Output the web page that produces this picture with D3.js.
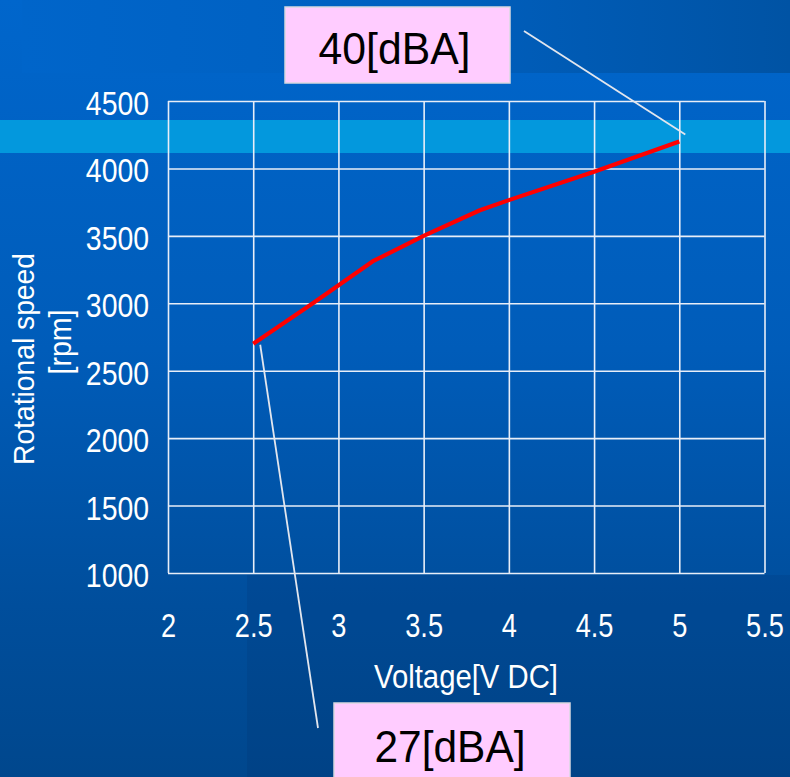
<!DOCTYPE html>
<html>
<head>
<meta charset="utf-8">
<script src="https://cdn.jsdelivr.net/npm/d3@7"></script>
<style>
  html, body { margin: 0; padding: 0; background: #0060c0; }
  svg { display: block; }
</style>
</head>
<body>
<svg id="chart" width="790" height="777"></svg>
<script>
// ---- data ----
const voltage = [2.5, 2.85, 3.2, 3.5, 3.83, 4.0, 4.5, 5.0];
const rpm = [2700, 3000, 3310, 3500, 3690, 3765, 3975, 4200];
const xTicks = [2, 2.5, 3, 3.5, 4, 4.5, 5, 5.5];
const yTicks = [1000, 1500, 2000, 2500, 3000, 3500, 4000, 4500];
const noiseLabels = ["40[dBA]", "27[dBA]"];
const xTitle = "Voltage[V DC]";
const yTitle = ["Rotational speed", "[rpm]"];

const W = 790, H = 777;
const svg = d3.select("#chart");

// ---- background ----
const defs = svg.append("defs");
const bg = defs.append("linearGradient").attr("id", "bg").attr("x1", 0).attr("y1", 0).attr("x2", 0).attr("y2", 1);
bg.append("stop").attr("offset", 0).attr("stop-color", "#0066cc");
bg.append("stop").attr("offset", 0.45).attr("stop-color", "#005cb9");
bg.append("stop").attr("offset", 0.78).attr("stop-color", "#004e9c");
bg.append("stop").attr("offset", 1).attr("stop-color", "#00478d");
const topG = defs.append("linearGradient").attr("id", "topg").attr("x1", 0).attr("y1", 0).attr("x2", 1).attr("y2", 0);
topG.append("stop").attr("offset", 0).attr("stop-color", "#0065ca");
topG.append("stop").attr("offset", 0.5).attr("stop-color", "#0060c0");
topG.append("stop").attr("offset", 1).attr("stop-color", "#0053a4");

svg.append("rect").attr("width", W).attr("height", H).attr("fill", "url(#bg)");
svg.append("rect").attr("x", 22).attr("y", 0).attr("width", W - 22).attr("height", 73).attr("fill", "url(#topg)");
svg.append("rect").attr("x", 247).attr("y", 575).attr("width", W - 247).attr("height", H - 575)
  .attr("fill", "#001a40").attr("opacity", 0.09);
svg.append("rect").attr("x", 0).attr("y", 120).attr("width", W).attr("height", 33).attr("fill", "#0398dd");

// ---- scales ----
const x = d3.scaleLinear().domain([2, 5.5]).range([168, 764.5]);
const y = d3.scaleLinear().domain([1000, 4500]).range([573, 101]);

const font = "'Liberation Sans', Arial, sans-serif";
function condense(sel, ratio) {
  sel.each(function () {
    const w = this.getComputedTextLength();
    d3.select(this).attr("textLength", w * ratio).attr("lengthAdjust", "spacingAndGlyphs");
  });
}

// gridlines via axes
const gx = svg.append("g").attr("transform", `translate(0,${y(1000)})`)
  .call(d3.axisBottom(x).tickValues(xTicks).tickSize(-(y(1000) - y(4500))).tickFormat(d3.format("")));
gx.select(".domain").remove();
gx.selectAll(".tick line").attr("stroke", "#e8eef8").attr("stroke-width", 1.6);
gx.selectAll(".tick text").attr("y", 63.5).attr("dy", 0)
  .attr("fill", "#ffffff").attr("font-family", font).attr("font-size", 34)
  .call(condense, 0.8);

const gy = svg.append("g").attr("transform", `translate(${x(2)},0)`)
  .call(d3.axisLeft(y).tickValues(yTicks).tickSize(-(x(5.5) - x(2))).tickFormat(d3.format("")));
gy.select(".domain").remove();
gy.selectAll(".tick line").attr("stroke", "#e8eef8").attr("stroke-width", 1.6);
gy.selectAll(".tick text").attr("x", -19).attr("dy", 13.5)
  .attr("fill", "#ffffff").attr("font-family", font).attr("font-size", 33)
  .call(condense, 0.86);

// ---- data line ----
const pts = voltage.map((v, i) => [v, rpm[i]]);
svg.append("path").datum(pts)
  .attr("d", d3.line().x(d => x(d[0])).y(d => y(d[1])))
  .attr("fill", "none").attr("stroke", "#ff0000").attr("stroke-width", 4.2)
  .attr("stroke-linejoin", "round").attr("stroke-linecap", "butt");

// ---- axis titles ----
svg.append("text").attr("x", 466).attr("y", 688).attr("text-anchor", "middle")
  .attr("fill", "#fff").attr("font-family", font).attr("font-size", 33)
  .attr("textLength", 184).attr("lengthAdjust", "spacingAndGlyphs").text(xTitle);

svg.append("text").attr("transform", "translate(33.5,359) rotate(-90)").attr("text-anchor", "middle")
  .attr("fill", "#fff").attr("font-family", font).attr("font-size", 29.5)
  .attr("textLength", 212).attr("lengthAdjust", "spacingAndGlyphs").text(yTitle[0]);
svg.append("text").attr("transform", "translate(71,342) rotate(-90)").attr("text-anchor", "middle")
  .attr("fill", "#fff").attr("font-family", font).attr("font-size", 31)
  .attr("textLength", 65).attr("lengthAdjust", "spacingAndGlyphs").text(yTitle[1]);

// ---- annotations ----
const leaderColor = "#e2e6ee";
svg.append("line").attr("x1", 524).attr("y1", 31)
  .attr("x2", x(voltage[voltage.length - 1]) + 6).attr("y2", y(rpm[rpm.length - 1]) - 7)
  .attr("stroke", leaderColor).attr("stroke-width", 1.8);
svg.append("line").attr("x1", x(voltage[0]) + 7).attr("y1", y(rpm[0]) + 1)
  .attr("x2", 318).attr("y2", 728)
  .attr("stroke", leaderColor).attr("stroke-width", 1.8);

const boxes = [
  { label: noiseLabels[0], bx: 285, by: 7, bw: 225, bh: 76, tx: 394.5, ty: 64, tl: 152 },
  { label: noiseLabels[1], bx: 334, by: 703, bw: 236, bh: 90, tx: 450, ty: 762, tl: 151 }
];
boxes.forEach(b => {
  svg.append("rect").attr("x", b.bx).attr("y", b.by).attr("width", b.bw).attr("height", b.bh)
    .attr("fill", "#ffccff").attr("stroke", "#d8d8e0").attr("stroke-width", 1.5);
  svg.append("text").attr("x", b.tx).attr("y", b.ty).attr("text-anchor", "middle")
    .attr("fill", "#000").attr("font-family", font).attr("font-size", 45)
    .attr("textLength", b.tl).attr("lengthAdjust", "spacingAndGlyphs").text(b.label);
});
</script>
</body>
</html>
